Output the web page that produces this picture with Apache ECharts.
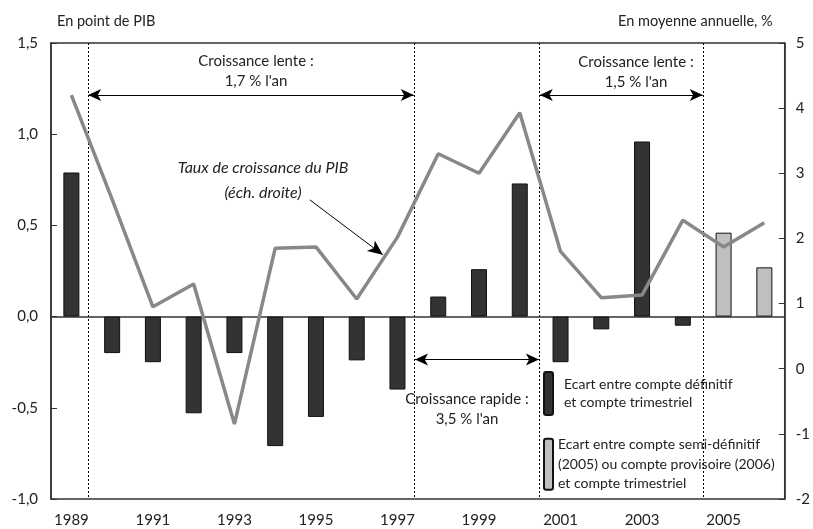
<!DOCTYPE html>
<html>
<head>
<meta charset="utf-8">
<script src="https://cdn.jsdelivr.net/npm/echarts@6/dist/echarts.min.js"></script>
<style>
  html, body { margin: 0; background: #fff; }
  #chart { width: 813px; height: 529px; }
</style>
</head>
<body>
<div id="chart"></div>
<script>
const years = ['1989', '1990', '1991', '1992', '1993', '1994', '1995', '1996', '1997',
  '1998', '1999', '2000', '2001', '2002', '2003', '2004', '2005', '2006']
// ecart entre compte definitif et compte trimestriel (point de PIB)
const ecartDefinitif = [0.79, -0.20, -0.25, -0.53, -0.20, -0.71, -0.55, -0.24, -0.40,
  0.11, 0.26, 0.73, -0.25, -0.07, 0.96, -0.05, null, null]
// ecart semi-definitif (2005) / provisoire (2006)
const ecartProvisoire = [null, null, null, null, null, null, null, null, null,
  null, null, null, null, null, null, null, 0.46, 0.27]
// taux de croissance du PIB, echelle droite (%)
const croissancePib = [4.2, 2.6, 0.95, 1.3, -0.85, 1.85, 1.87, 1.07, 2.02,
  3.3, 3.0, 3.93, 1.8, 1.09, 1.13, 2.28, 1.87, 2.24]
// limites des periodes, en unites de categorie
const periodBounds = [0.91, 8.9, 11.99, 15.99]
const leftTicks = [-1, 1.5, 0.5]
const rightTicks = [-2, 5, 1]

const FONT = 'Lato'
const legendDark = 'Ecart entre compte définitif\net compte trimestriel'
const legendLight = 'Ecart entre compte semi-définitif\n(2005) ou compte provisoire (2006)\net compte trimestriel'

const chart = echarts.init(document.getElementById('chart'))

const comma = v => v.toFixed(1).replace('.', ',')
const note = { textAlign: 'center', textVerticalAlign: 'middle', fontSize: 15, fontFamily: FONT, lineHeight: 20, fill: '#222' }

chart.setOption({
  animation: false,
  textStyle: { fontFamily: FONT, color: '#222' },
  grid: {
    left: 51, right: 28, top: 43, bottom: 30,
    show: true, borderColor: '#333', borderWidth: 1.5
  },
  legend: [{
    data: [legendDark],
    left: 543, top: 371, padding: 0,
    itemWidth: 9, itemHeight: 43, itemGap: 0,
    icon: 'roundRect',
    textStyle: { fontFamily: FONT, fontSize: 14, color: '#222', lineHeight: 18, padding: [0, 0, 0, 6] }
  }, {
    data: [legendLight],
    left: 543, top: 435, padding: 0,
    itemWidth: 9, itemHeight: 51, itemGap: 0,
    icon: 'roundRect',
    textStyle: { fontFamily: FONT, fontSize: 14, color: '#222', lineHeight: 19.5 }
  }],
  xAxis: [{
    type: 'category',
    data: years,
    position: 'bottom',
    axisLine: { onZero: true, onZeroAxisIndex: 0, lineStyle: { color: '#333', width: 1.5 } },
    axisTick: { inside: true, length: 5, lineStyle: { color: '#333' } },
    axisLabel: { show: false }
  }, {
    type: 'category',
    data: years,
    position: 'bottom',
    axisLine: { show: false, onZero: false },
    axisTick: { show: false },
    axisLabel: { interval: 1, fontSize: 15, color: '#222', margin: 14, fontFamily: FONT }
  }, {
    type: 'value',
    min: 0, max: years.length,
    show: false
  }],
  yAxis: [{
    type: 'value',
    min: leftTicks[0], max: leftTicks[1], interval: leftTicks[2],
    name: 'En point de PIB',
    nameLocation: 'end',
    nameGap: 22,
    nameTextStyle: { align: 'left', verticalAlign: 'middle', padding: [0, 0, 0, 6], fontSize: 14.5, color: '#222', fontFamily: FONT },
    axisLine: { show: true, lineStyle: { color: '#333', width: 1.5 } },
    axisTick: { show: true, inside: true, length: 6, lineStyle: { color: '#333' } },
    axisLabel: { formatter: comma, fontSize: 15, color: '#222', margin: 13, fontFamily: FONT },
    splitLine: { show: false }
  }, {
    type: 'value',
    min: rightTicks[0], max: rightTicks[1], interval: rightTicks[2],
    name: 'En moyenne annuelle, %',
    nameLocation: 'end',
    nameGap: 22,
    nameTextStyle: { align: 'right', verticalAlign: 'middle', padding: [0, 12, 0, 0], fontSize: 14.5, color: '#222', fontFamily: FONT },
    axisLine: { show: true, lineStyle: { color: '#333', width: 1.5 } },
    axisTick: { show: true, inside: true, length: 6, lineStyle: { color: '#333' } },
    axisLabel: { fontSize: 15, color: '#222', margin: 11, fontFamily: FONT },
    splitLine: { show: false }
  }],
  series: [{
    name: legendDark,
    type: 'bar',
    data: ecartDefinitif,
    barWidth: 16,
    barGap: '-100%',
    itemStyle: { color: '#333', borderColor: '#111', borderWidth: 1 }
  }, {
    name: legendLight,
    type: 'bar',
    data: ecartProvisoire,
    barWidth: 16,
    itemStyle: { color: '#bfbfbf', borderColor: '#111', borderWidth: 1 }
  }, {
    name: 'Taux de croissance du PIB',
    type: 'line',
    yAxisIndex: 1,
    data: croissancePib,
    symbol: 'none',
    z: 5,
    lineStyle: { color: '#888', width: 3.5 },
    itemStyle: { color: '#888' }
  }, {
    // separations des periodes
    type: 'line', xAxisIndex: 2, yAxisIndex: 0, data: [],
    markLine: {
      silent: true, symbol: 'none', label: { show: false },
      lineStyle: { color: '#000', type: [2, 2], width: 1 },
      data: periodBounds.map(b => [{ coord: [b, leftTicks[1]] }, { coord: [b, leftTicks[0]] }])
    }
  }, {
    // fleches des periodes
    type: 'line', xAxisIndex: 2, yAxisIndex: 0, data: [],
    markLine: {
      silent: true, symbol: ['arrow', 'arrow'], symbolSize: [9, 13], label: { show: false },
      lineStyle: { color: '#000', type: 'solid', width: 1 },
      data: [
        [{ coord: [periodBounds[0], 1.215] }, { coord: [periodBounds[1], 1.215] }],
        [{ coord: [periodBounds[2], 1.215] }, { coord: [periodBounds[3], 1.215] }],
        [{ coord: [periodBounds[1] + 0.03, -0.235] }, { coord: [periodBounds[2] - 0.02, -0.235] }]
      ]
    }
  }, {
    // fleche vers la courbe
    type: 'line', xAxisIndex: 2, yAxisIndex: 0, data: [],
    markLine: {
      silent: true, symbol: ['none', 'arrow'], symbolSize: [10, 15], label: { show: false },
      lineStyle: { color: '#000', type: 'solid', width: 1 },
      data: [[{ coord: [6.35, 0.64] }, { coord: [8.14, 0.339] }]]
    }
  }],
  graphic: [{
    type: 'text', x: 256, y: 71,
    style: Object.assign({ text: 'Croissance lente :\n1,7 % l\'an' }, note)
  }, {
    type: 'text', x: 636, y: 72,
    style: Object.assign({ text: 'Croissance lente :\n1,5 % l\'an' }, note)
  }, {
    type: 'text', x: 467, y: 409,
    style: Object.assign({ text: 'Croissance rapide :\n3,5 % l\'an' }, note)
  }, {
    type: 'text', x: 263, y: 180,
    style: Object.assign({ text: 'Taux de croissance du PIB\n(éch. droite)' }, note, { fontSize: 16, fontStyle: 'italic', lineHeight: 25 })
  }]
})
</script>
</body>
</html>
